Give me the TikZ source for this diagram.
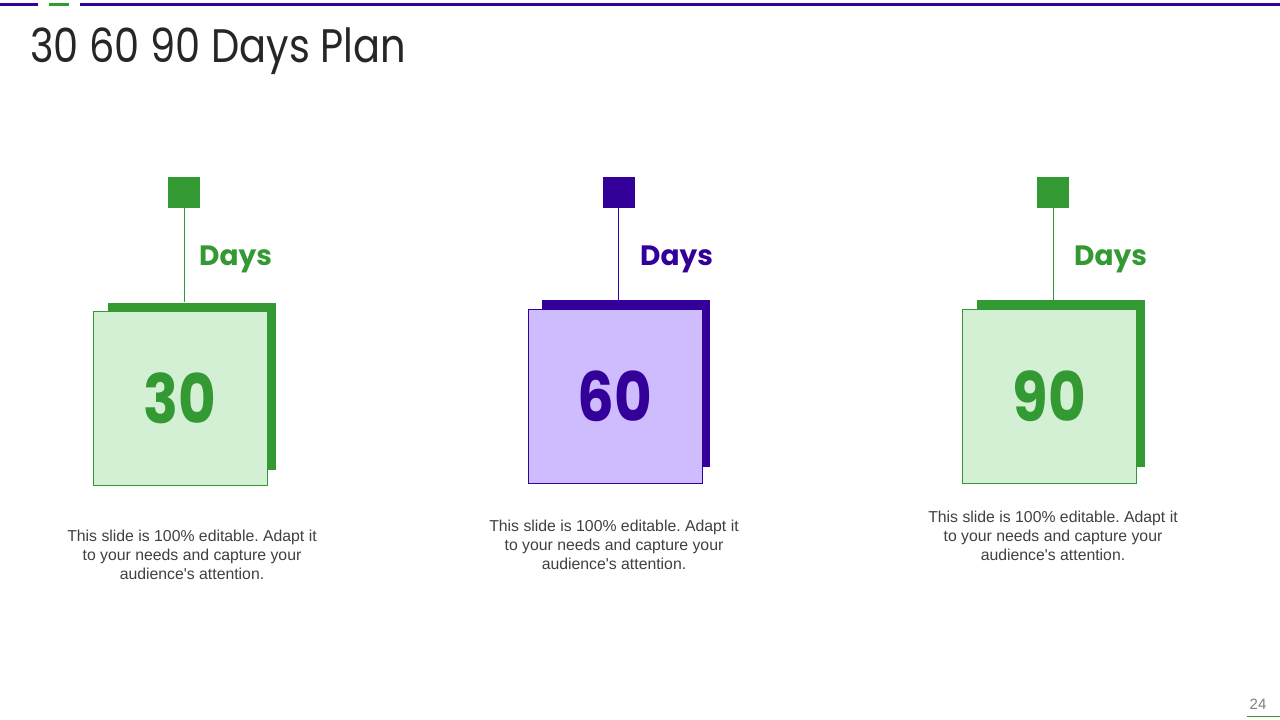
\documentclass[tikz,border=0pt]{standalone}
\usepackage{fontspec}
\setmainfont{Liberation Sans}
\newfontfamily\gothic{Poppins}
\newfontfamily\gothicnarrow[FakeStretch=0.85]{Poppins}
\usetikzlibrary{positioning}

\definecolor{planGreen}{RGB}{51,153,51}
\definecolor{paleGreen}{RGB}{212,240,212}
\definecolor{planPurple}{RGB}{51,0,153}
\definecolor{paleLilac}{RGB}{206,188,255}
\definecolor{titleGray}{RGB}{38,38,38}
\definecolor{blurbGray}{RGB}{64,64,64}

\tikzset{
	tagsq/.style={rectangle, fill=#1, minimum width=32pt, minimum height=31pt, inner sep=0pt},
	backsq/.style={rectangle, fill=#1, minimum width=168pt, minimum height=167pt, inner sep=0pt},
	frontsq/.style 2 args={rectangle, draw=#1, fill=#2, line width=0.8pt,
		minimum width=174pt, minimum height=174pt, inner sep=0pt,
		font=\gothicnarrow\bfseries\fontsize{68}{70}\selectfont, text=#1},
	daylabel/.style={anchor=west, inner sep=0pt, text=#1,
		font=\gothic\bfseries\fontsize{28}{30}\selectfont},
	stem/.style={draw=#1, line width=1pt},
	blurb/.style={align=center, text=blurbGray, inner sep=0pt,
		font=\frenchspacing\fontsize{15.8}{19}\selectfont}
}

\begin{document}
\begin{tikzpicture}[x=1pt,y=-1pt]
	\useasboundingbox[fill=white] (0,0) rectangle (1280,720);

	% top rule
	\draw[planPurple, line width=2.5pt] (0,4.5) -- (38,4.5);
	\draw[planGreen, line width=2.5pt] (49,4.5) -- (69,4.5);
	\draw[planPurple, line width=2.5pt] (80,4.5) -- (1280,4.5);

	\node[anchor=base west, inner sep=0pt, text=titleGray,
	      font=\gothicnarrow\fontsize{47}{50}\selectfont] (title) at (30,62) {30 60 90 Days Plan};

	% 30 days
	\node[tagsq=planGreen] (tag1) at (184,192.5) {};
	\node[backsq=planGreen] (back1) at (192,386) {};
	\node[frontsq={planGreen}{paleGreen}] (front1) at (180,398.5) {30};
	\node[daylabel=planGreen] (days1) at (199,259) {Days};
	\draw[stem=planGreen] (tag1.south) -- (tag1.south |- back1.north);
	\node[blurb] (text1) at (192,555) {This slide is 100\% editable. Adapt it\\to your needs and capture your\\audience\textquotesingle s attention.};

	% 60 days
	\node[tagsq=planPurple] (tag2) at (618.5,192.5) {};
	\node[backsq=planPurple] (back2) at (626,383.5) {};
	\node[frontsq={planPurple}{paleLilac}] (front2) at (615,396) {60};
	\node[daylabel=planPurple] (days2) at (640,259) {Days};
	\draw[stem=planPurple] (tag2.south) -- (tag2.south |- back2.north);
	\node[blurb] (text2) at (614,545) {This slide is 100\% editable. Adapt it\\to your needs and capture your\\audience\textquotesingle s attention.};

	% 90 days
	\node[tagsq=planGreen] (tag3) at (1053,192.5) {};
	\node[backsq=planGreen] (back3) at (1061,383.5) {};
	\node[frontsq={planGreen}{paleGreen}] (front3) at (1049.5,396) {90};
	\node[daylabel=planGreen] (days3) at (1074,259) {Days};
	\draw[stem=planGreen] (tag3.south) -- (tag3.south |- back3.north);
	\node[blurb] (text3) at (1053,536) {This slide is 100\% editable. Adapt it\\to your needs and capture your\\audience\textquotesingle s attention.};

	% page number
	\node[text=gray, font=\fontsize{15}{16}\selectfont, inner sep=0pt] (pagenum) at (1258,704) {24};
	\draw[planGreen, line width=0.8pt] (1247,716) -- (1280,716);
\end{tikzpicture}
\end{document}
